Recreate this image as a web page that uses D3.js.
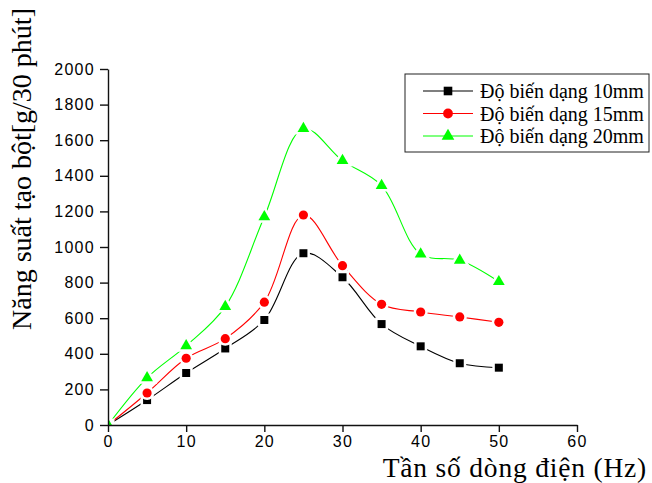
<!DOCTYPE html>
<html>
<head>
<meta charset="utf-8">
<script src="https://cdn.jsdelivr.net/npm/d3@7/dist/d3.min.js"></script>
<style>
  body { margin: 0; background: #fff; }
  .tick text { font-family: "Liberation Sans", Arial, sans-serif; font-size: 16px; letter-spacing: 1.3px; fill: #000; }
  .title { font-family: "Liberation Serif", "Times New Roman", serif; fill: #000; }
</style>
</head>
<body>
<svg id="chart" width="652" height="483"></svg>
<script>
// data
const freq = [0, 5, 10, 15, 20, 25, 30, 35, 40, 45, 50]
const def10 = [0, 140, 292, 430, 590, 965, 830, 567, 442, 347, 322]
const def15 = [0, 180, 375, 485, 690, 1180, 895, 678, 635, 607, 577]
const def20 = [0, 265, 445, 665, 1170, 1665, 1485, 1345, 960, 925, 805]
const xTicks = [0, 10, 20, 30, 40, 50, 60]
const yTicks = [0, 200, 400, 600, 800, 1000, 1200, 1400, 1600, 1800, 2000]

const series = [
  {name: "Độ biến dạng 10mm", values: def10, color: "#000000", symbol: d3.symbolSquare, size: 64},
  {name: "Độ biến dạng 15mm", values: def15, color: "#ff0000", symbol: d3.symbolCircle, size: 66},
  {name: "Độ biến dạng 20mm", values: def20, color: "#00ff00", symbol: d3.symbolTriangle, size: 60}
]

const svg = d3.select("#chart")

const x = d3.scaleLinear().domain([0, 60]).range([108, 577])
const y = d3.scaleLinear().domain([0, 2000]).range([425, 69])

// clip for markers so the origin points get cut by the axes
svg.append("clipPath").attr("id", "plotclip")
  .append("rect").attr("x", 108).attr("y", 60).attr("width", 480).attr("height", 365)

const line = d3.line()
  .x(d => x(d[0]))
  .y(d => y(d[1]))
  .curve(d3.curveCatmullRom.alpha(0.5))

const plot = svg.append("g").attr("clip-path", "url(#plotclip)")

series.forEach(s => {
  const pts = freq.map((f, i) => [f, s.values[i]])
  plot.append("path")
    .attr("d", line(pts))
    .attr("fill", "none")
    .attr("stroke", s.color)
    .attr("stroke-width", 1.1)
})

// markers, white halo gives the little gap in the line
series.forEach(s => {
  const pts = freq.map((f, i) => [f, s.values[i]])
  plot.selectAll(null)
    .data(pts)
    .join("path")
    .attr("d", d3.symbol().type(s.symbol).size(s.size))
    .attr("transform", d => `translate(${x(d[0])},${y(d[1])})`)
    .attr("fill", s.color)
    .attr("stroke", "#fff")
    .attr("stroke-width", 5)
    .style("paint-order", "stroke")
})

// axes
const xAxis = svg.append("g")
  .attr("transform", `translate(0,${y(0)})`)
  .call(d3.axisBottom(x).tickValues(xTicks).tickFormat(d3.format("d"))
    .tickSize(7).tickPadding(4).tickSizeOuter(0))
const yAxis = svg.append("g")
  .attr("transform", `translate(${x(0)},0)`)
  .call(d3.axisLeft(y).tickValues(yTicks).tickFormat(d3.format("d"))
    .tickSize(8).tickPadding(5).tickSizeOuter(0))

svg.selectAll(".domain, .tick line").attr("stroke", "#111").attr("stroke-width", 1.4)

// axis titles
svg.append("text")
  .attr("class", "title")
  .attr("x", 647).attr("y", 477)
  .attr("text-anchor", "end")
  .style("font-size", "27.5px")
  .style("letter-spacing", "0.8px")
  .text("Tần số dòng điện (Hz)")

svg.append("text")
  .attr("class", "title")
  .attr("transform", "translate(31,169) rotate(-90)")
  .attr("text-anchor", "middle")
  .style("font-size", "28px")
  .text("Năng suất tạo bột[g/30 phút]")

// legend
const legend = svg.append("g")
legend.append("rect")
  .attr("x", 405).attr("y", 74).attr("width", 244).attr("height", 78)
  .attr("fill", "#fff").attr("stroke", "#222").attr("stroke-width", 1)

series.forEach((s, i) => {
  const ly = 91 + i * 22.5
  legend.append("line")
    .attr("x1", 423).attr("x2", 473).attr("y1", ly).attr("y2", ly)
    .attr("stroke", s.color).attr("stroke-width", 1.1)
  legend.append("path")
    .attr("d", d3.symbol().type(s.symbol).size(s.size + 10)())
    .attr("transform", `translate(448,${ly})`)
    .attr("fill", s.color)
  legend.append("text")
    .attr("class", "title")
    .attr("x", 480).attr("y", ly + 7)
    .style("font-size", "20px")
    .text(s.name)
})
</script>
</body>
</html>
